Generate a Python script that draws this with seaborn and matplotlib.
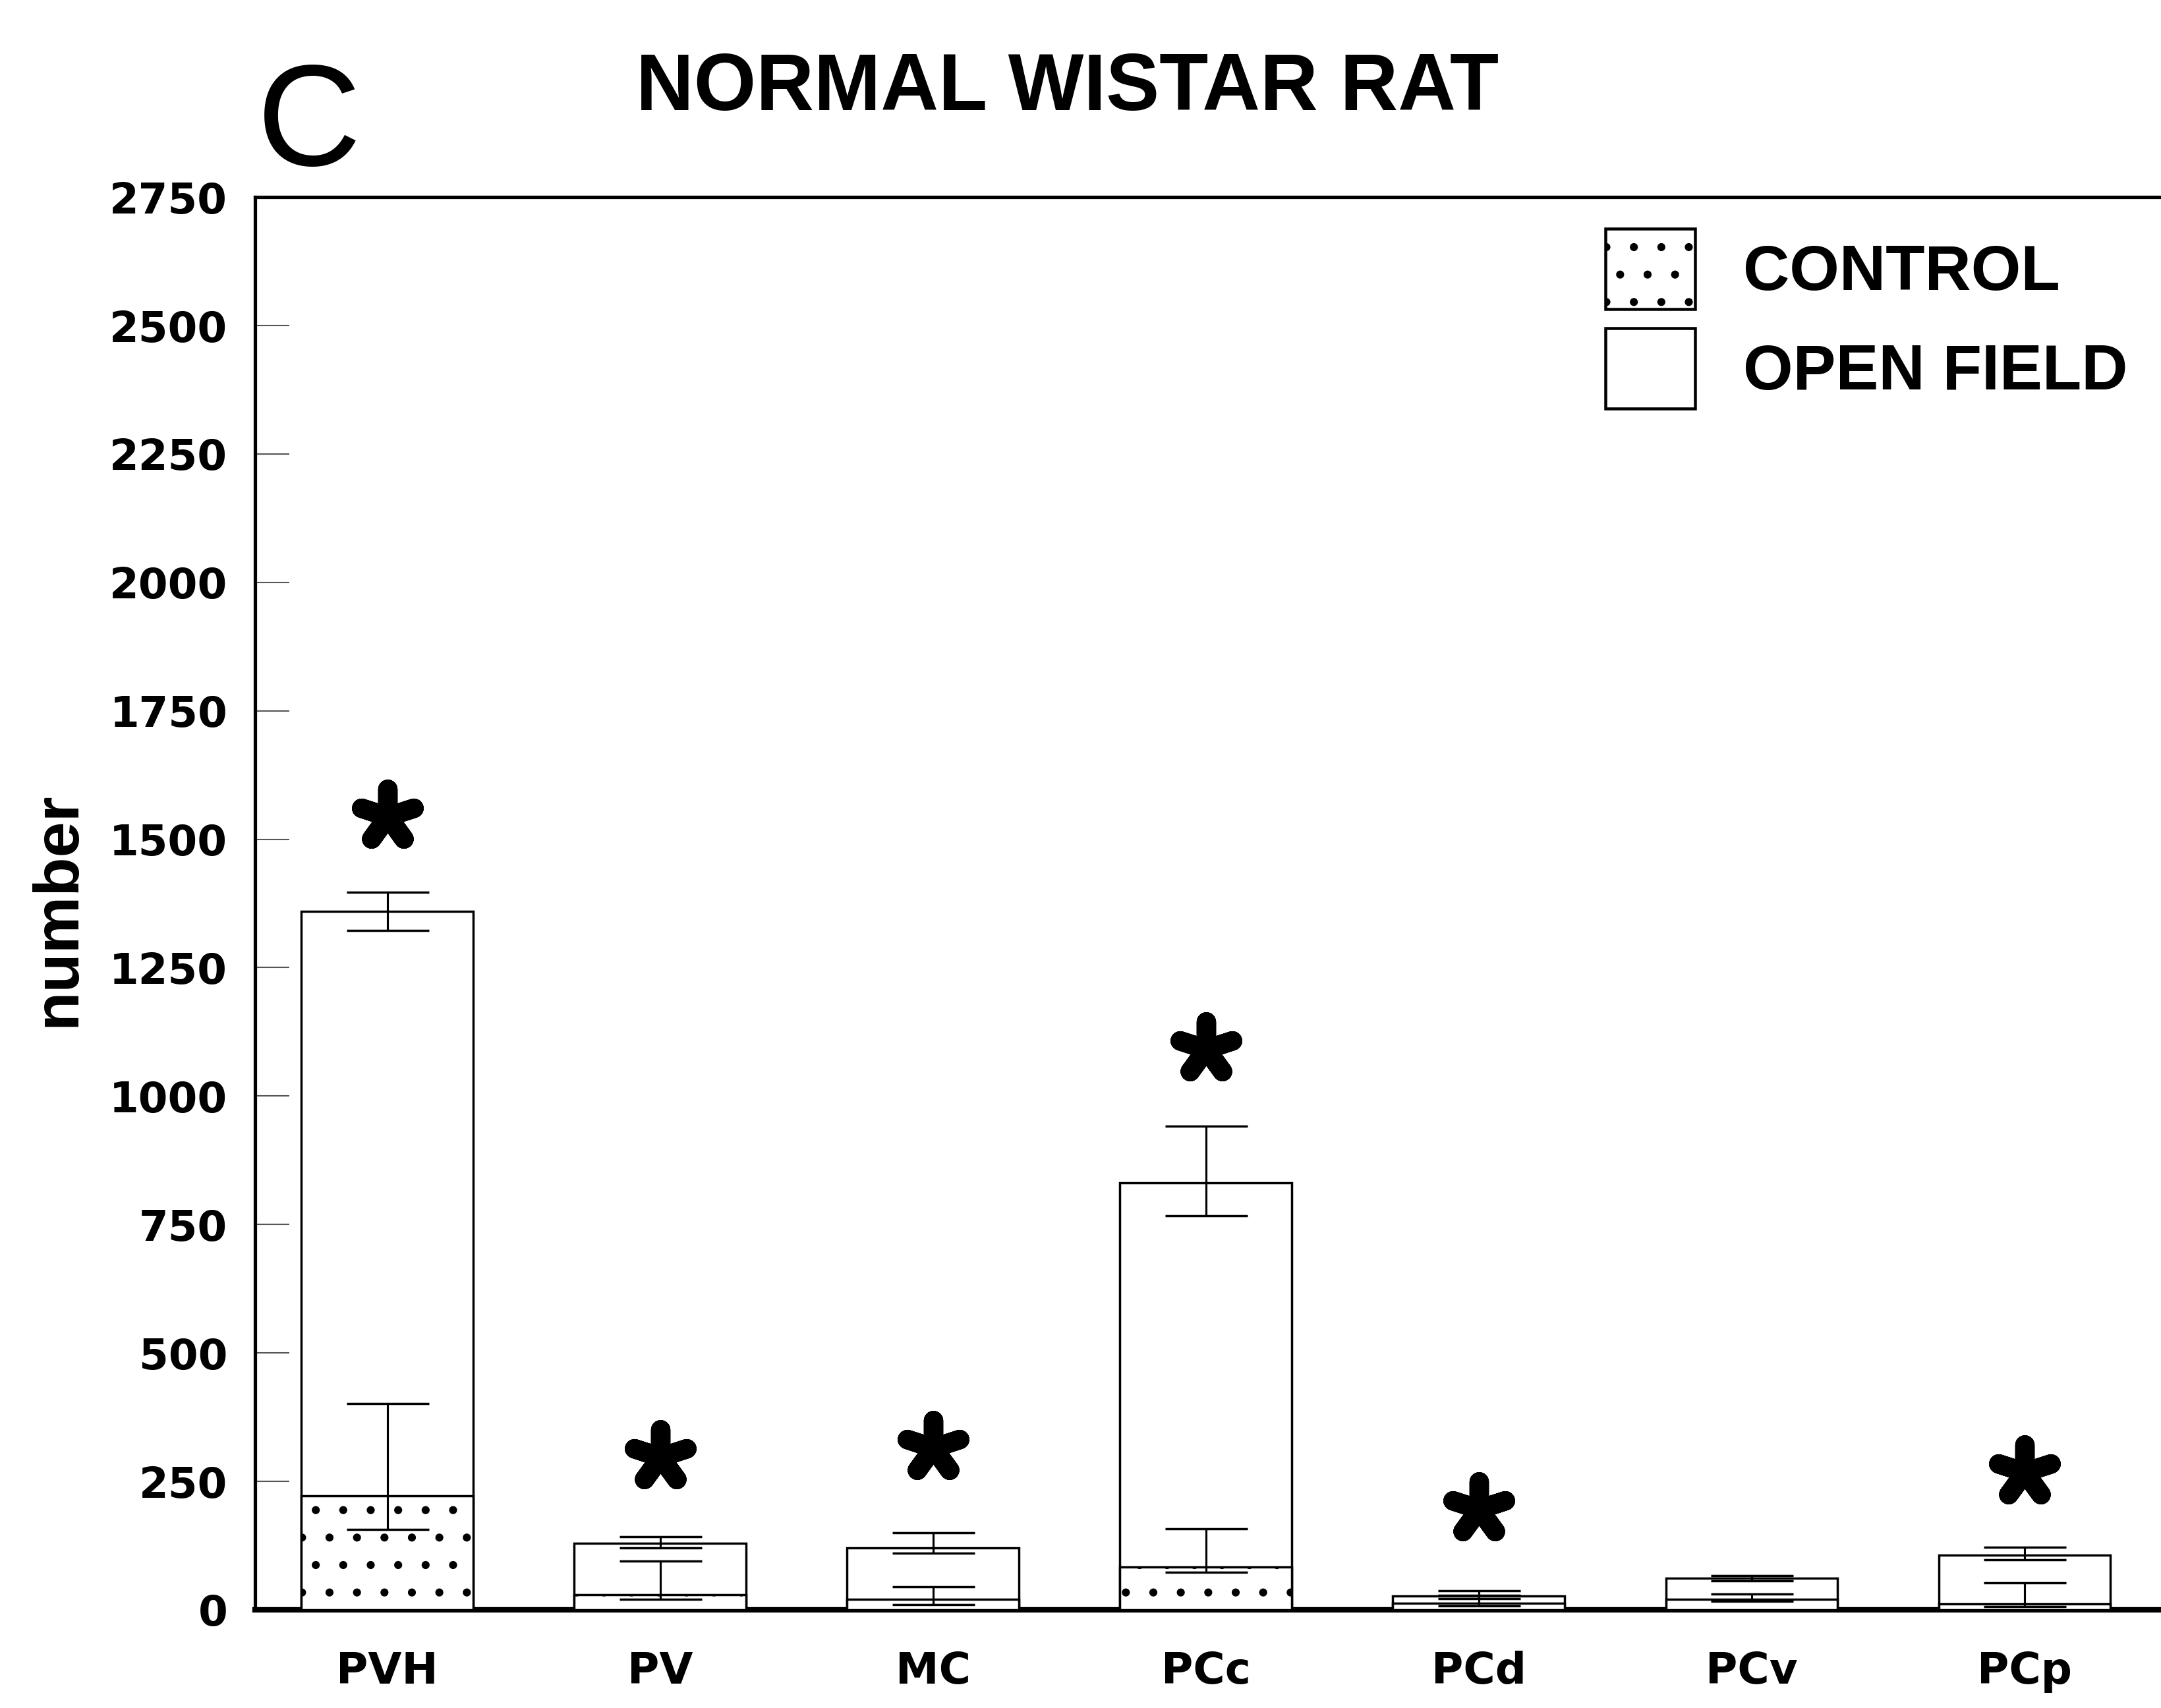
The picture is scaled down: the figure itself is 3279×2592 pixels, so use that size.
import numpy as np
import matplotlib
matplotlib.use("Agg")
import matplotlib.pyplot as plt
import seaborn as sns
from matplotlib.patches import Patch

# ---- data ----
regions = ["PVH", "PV", "MC", "PCc", "PCd", "PCv", "PCp"]
open_mean = [1360, 130, 120, 831, 27, 62, 107]
open_err_lo = [38, 10, 10, 64, 5, 5, 10]
open_err_hi = [37, 12, 30, 110, 10, 5, 15]
ctrl_mean = [222, 30, 20, 83, 13, 21, 12]
ctrl_err_lo = [66, 10, 10, 10, 5, 5, 5]
ctrl_err_hi = [180, 65, 25, 75, 15, 10, 40]
star_y = [1545, 298, 316, 1092, 196, np.nan, 268]
yticks = list(range(0, 2751, 250))

sns.set_theme(style="white")
plt.rcParams["font.family"] = ["DejaVu Sans"]
plt.rcParams["text.color"] = "black"
plt.rcParams["axes.labelcolor"] = "black"
plt.rcParams["xtick.color"] = "black"
plt.rcParams["ytick.color"] = "black"
plt.rcParams["xtick.labelcolor"] = "black"
plt.rcParams["ytick.labelcolor"] = "black"
plt.rcParams["hatch.linewidth"] = 1.1
plt.rcParams["hatch.color"] = "black"

DPI = 250
fig = plt.figure(figsize=(3279 / DPI, 2592 / DPI), dpi=DPI)
fig.patch.set_facecolor("white")
ax = fig.add_axes([0.118, 0.0575, 0.882, 0.8271])
ax.set_facecolor("white")

bw = 0.63
sns.barplot(x=regions, y=open_mean, color="white", saturation=1,
            edgecolor="black", linewidth=1.0, width=bw, errorbar=None, ax=ax)
n_open = len(ax.patches)
sns.barplot(x=regions, y=ctrl_mean, color="white", saturation=1,
            edgecolor="black", linewidth=1.0, width=bw, errorbar=None, ax=ax)
for p in ax.patches[n_open:]:
    p.set_hatch(".")
    p.set_zorder(3)

xpos = np.arange(len(regions))
ax.errorbar(xpos, open_mean, yerr=[open_err_lo, open_err_hi], fmt="none",
            ecolor="black", elinewidth=0.9, capsize=18, capthick=1.0, zorder=4)
ax.errorbar(xpos, ctrl_mean, yerr=[ctrl_err_lo, ctrl_err_hi], fmt="none",
            ecolor="black", elinewidth=0.9, capsize=18, capthick=1.0, zorder=4)

# significance asterisks
ax.scatter(xpos, star_y, marker=(5, 2, 0), s=24 ** 2, linewidths=8.5,
           color="black", zorder=5)

ax.set_xlim(-0.485, 6.5)
ax.set_ylim(0, 2750)
ax.set_yticks(yticks)
ax.set_yticklabels([str(v) for v in yticks], fontsize=18.5, fontweight="bold",
                   color="black")
ax.set_xticks(xpos)
ax.set_xticklabels(regions, fontsize=19, fontweight="bold", color="black")
ax.tick_params(axis="y", direction="in", length=15, width=0.6, color="#555555",
               pad=12, left=True)
ax.tick_params(axis="x", length=0, pad=18)

for side in ["left", "top"]:
    ax.spines[side].set_visible(True)
    ax.spines[side].set_color("black")
    ax.spines[side].set_linewidth(1.5)
ax.spines["bottom"].set_color("black")
ax.spines["bottom"].set_linewidth(2.4)
ax.spines["right"].set_visible(False)

ax.set_xlabel("")
ax.set_ylabel("number", fontsize=28, fontweight="bold",
              family="Liberation Sans", va="center", color="black")
ax.yaxis.set_label_coords(-0.1034, 0.496)

fig.text(0.494, 0.948, "NORMAL WISTAR RAT", fontsize=35, fontweight="bold",
         family="Liberation Sans", ha="center", va="center", color="black")
fig.text(0.143, 0.925, "C", fontsize=63, family="Liberation Sans",
         fontweight="light", ha="center", va="center", color="black")

handles = [Patch(facecolor="white", edgecolor="black", hatch=".", linewidth=1.3),
           Patch(facecolor="white", edgecolor="black", linewidth=1.3)]
leg = fig.legend(handles, ["CONTROL", "OPEN FIELD"], loc="upper left",
                 bbox_to_anchor=(0.743, 0.866), frameon=False, borderpad=0,
                 borderaxespad=0, handlelength=1.4, handleheight=1.55,
                 handletextpad=0.75, labelspacing=0.3,
                 prop={"family": "Liberation Sans", "weight": "bold", "size": 28})
for t in leg.get_texts():
    t.set_color("black")

fig.savefig("out.png", dpi=DPI, facecolor="white")
